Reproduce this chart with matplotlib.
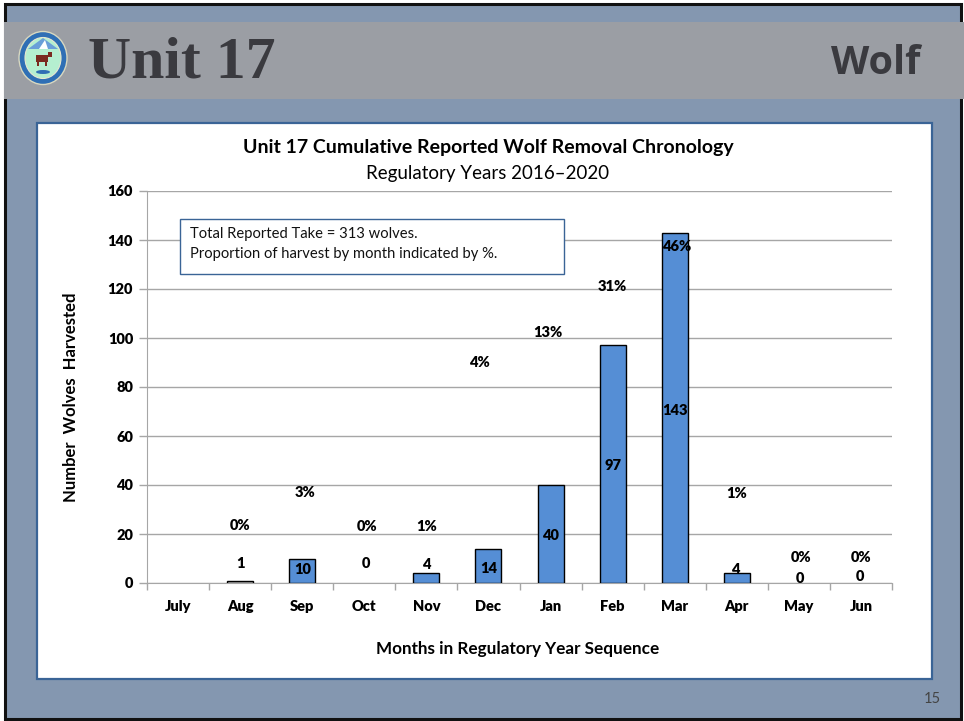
import numpy as np
import matplotlib
matplotlib.use('Agg')
import matplotlib.pyplot as plt
from matplotlib.patches import Rectangle, Ellipse, Polygon

months = ['July', 'Aug', 'Sep', 'Oct', 'Nov', 'Dec', 'Jan', 'Feb', 'Mar', 'Apr', 'May', 'Jun']
wolves = [0, 1, 10, 0, 4, 14, 40, 97, 143, 4, 0, 0]
bar_colors = ['#558ed5', '#d0d0d0', '#558ed5', '#558ed5', '#558ed5', '#558ed5',
              '#558ed5', '#558ed5', '#558ed5', '#558ed5', '#558ed5', '#558ed5']

# labels float around in the source slide, places
count_x = [1, 2, 3.03, 4, 5, 6, 7, 8, 8.98, 10.02, 10.98]
count_text = ['1', '10', '0', '4', '14', '40', '97', '143', '4', '0', '0']
count_y = [7.8, 5.7, 7.8, 7.4, 6.1, 19.2, 47.8, 70.6, 5.7, 1.8, 2.5]
pct_x = [1, 2.05, 3.05, 4, 4.85, 5.95, 7, 8.03, 9, 10.03, 11]
pct_text = ['0%', '3%', '0%', '1%', '4%', '13%', '31%', '46%', '1%', '0%', '0%']
pct_y = [23.3, 37.1, 22.9, 22.9, 89.8, 102.4, 121.2, 137.5, 36.7, 10.6, 10.6]

yticks = [0, 20, 40, 60, 80, 100, 120, 140, 160]

W, H = 964, 721
plt.rcParams['font.family'] = ['Lato', 'DejaVu Sans']

fig = plt.figure(figsize=(W / 100, H / 100), dpi=100, facecolor='white')

# slide furniture, drawn in pixel coordinates
bg = fig.add_axes([0, 0, 1, 1])
bg.set_xlim(0, W)
bg.set_ylim(H, 0)
bg.axis('off')
bg.add_patch(Rectangle((5, 4), 956, 715, fc='#8497b0', ec='#111111', lw=2.2))
bg.add_patch(Rectangle((4, 22), 960, 77, fc='#9b9ea4', ec='none'))
bg.add_patch(Rectangle((37, 123), 895, 556, fc='white', ec='#3a6496', lw=1.6))

bg.text(88, 63, 'Unit 17', family='Liberation Serif', weight='bold', fontsize=43,
        color='#3a3a3f', ha='left', va='center')
bg.text(920, 64, 'Wolf', family='Open Sans', weight='bold', fontsize=28.5,
        color='#3a3a3f', ha='right', va='center')
bg.text(941, 699, '15', fontsize=10.5, color='#444444', ha='right', va='center')

# seal
bg.add_patch(Ellipse((43, 58), 48, 53, fc='#2f6fb5', ec='#d8d8c0', lw=1))
bg.add_patch(Ellipse((43, 58), 36, 41, fc='#b5efd0', ec='#e8e8d0', lw=0.8))
bg.add_patch(Polygon([[28, 49], [43, 38], [58, 49]], fc='#6a9fd8', ec='none'))
bg.add_patch(Polygon([[39, 49], [45, 40], [48, 49]], fc='white', ec='none'))
bg.add_patch(Rectangle((36, 55), 12, 7, fc='#7a2a20', ec='none'))
bg.add_patch(Rectangle((48, 52), 4, 5, fc='#7a2a20', ec='none'))
bg.add_patch(Rectangle((37, 62), 2, 4, fc='#7a2a20', ec='none'))
bg.add_patch(Rectangle((45, 62), 2, 4, fc='#7a2a20', ec='none'))
bg.add_patch(Ellipse((43, 72), 14, 4, fc='#2f6fb5', ec='none'))

ax = fig.add_axes([147 / W, (H - 583) / H, (892 - 147) / W, (583 - 191) / H])
ax.patch.set_alpha(0)
x = np.arange(len(months))
edges = ['black' if v > 0 else 'none' for v in wolves]
ax.bar(x, wolves, width=0.42, color=bar_colors, edgecolor=edges, linewidth=1, zorder=3)

ax.set_xlim(-0.5, 11.5)
ax.set_ylim(0, 160)
ax.set_yticks(yticks)
ax.set_xticks(x)
ax.set_xticklabels(months, fontsize=10.5, fontweight='heavy')
ax.set_xticks(np.arange(-0.5, 12, 1), minor=True)
ax.tick_params(axis='x', which='major', length=0, pad=12)
ax.tick_params(axis='x', which='minor', length=5, color='#a6a6a6', width=1)
ax.tick_params(axis='y', length=6, color='#a6a6a6', width=1, labelsize=10.5, pad=4)
for lab in ax.get_yticklabels():
    lab.set_fontweight('heavy')
ax.grid(axis='y', color='#a6a6a6', lw=1, zorder=1)
ax.set_axisbelow(True)
for side in ['top', 'right']:
    ax.spines[side].set_visible(False)
for side in ['left', 'bottom']:
    ax.spines[side].set_color('#a6a6a6')

for m, t, y in zip(count_x, count_text, count_y):
    ax.text(m, y, t, ha='center', va='center', fontsize=10.5, fontweight='heavy', color='black', zorder=5)
for m, t, y in zip(pct_x, pct_text, pct_y):
    ax.text(m, y, t, ha='center', va='center', fontsize=10.5, fontweight='heavy', color='black', zorder=5)

bg.text(488, 147, 'Unit 17 Cumulative Reported Wolf Removal Chronology', fontsize=14,
        fontweight='bold', ha='center', va='center', color='black')
bg.text(488, 173, 'Regulatory Years 2016\u20132020', fontsize=13.5, ha='center', va='center', color='black')
bg.text(518, 649, 'Months in Regulatory Year Sequence', fontsize=12.3, fontweight='bold',
        ha='center', va='center', color='black')
bg.text(71, 397, 'Number  Wolves  Harvested', fontsize=12, fontweight='bold', rotation=90,
        ha='center', va='center', color='black')

# note box sits above the gridlines
box = fig.add_axes([0, 0, 1, 1])
box.set_xlim(0, W)
box.set_ylim(H, 0)
box.axis('off')
box.add_patch(Rectangle((180, 219), 384, 55, fc='white', ec='#3a6496', lw=1))
box.text(190, 234, 'Total Reported Take = 313 wolves.', fontsize=10.6, va='center', color='#111111')
box.text(190, 254, 'Proportion of harvest by month indicated by %.', fontsize=10.6, va='center', color='#111111')

fig.savefig('out.png', dpi=100)
